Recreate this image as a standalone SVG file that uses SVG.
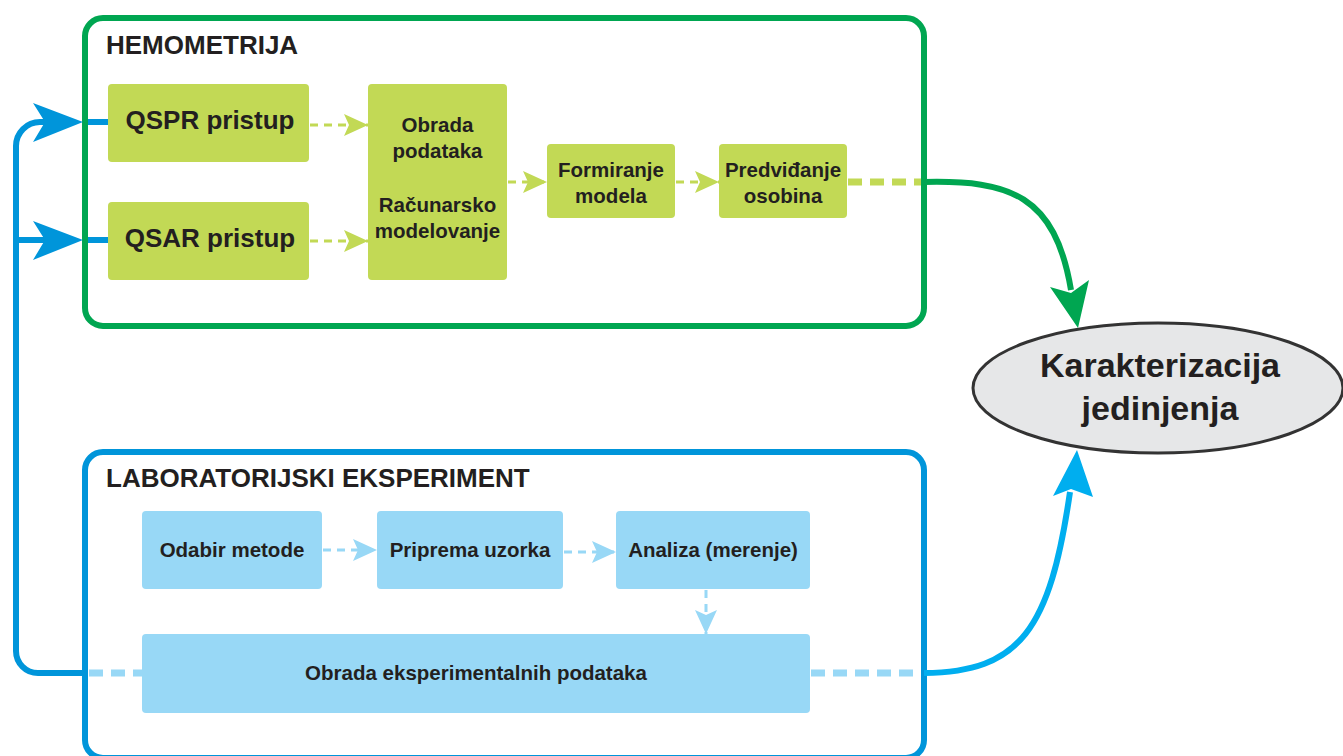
<svg xmlns="http://www.w3.org/2000/svg" width="1343" height="756" viewBox="0 0 1343 756">
<style>
  text { font-family: "Liberation Sans", Arial, sans-serif; font-weight: bold; fill: #231f20; }
  .hdr { font-size: 26px; }
  .big { font-size: 26px; text-anchor: middle; }
  .mid { font-size: 20.5px; text-anchor: middle; }
  .ell { font-size: 34px; text-anchor: middle; }
  .gbox { fill: #c2d955; }
  .bbox { fill: #98d8f6; }
  .dg { stroke: #c2d955; stroke-width: 3; stroke-dasharray: 8 6; fill: none; }
  .db { stroke: #98d8f6; stroke-width: 3; stroke-dasharray: 8 6; fill: none; }
  .tdg { stroke: #c2d955; stroke-width: 7; stroke-dasharray: 14 8; fill: none; }
  .tdb { stroke: #98d8f6; stroke-width: 7; stroke-dasharray: 14 8; fill: none; }
  .loop { stroke: #0095da; stroke-width: 6; fill: none; }
</style>
<defs>
  <marker id="ag" markerUnits="userSpaceOnUse" markerWidth="24" markerHeight="22" viewBox="0 0 24 22" refX="24" refY="11" orient="auto">
    <path d="M0,0 L24,11 L0,22 L5,11 Z" fill="#c2d955"/>
  </marker>
  <marker id="ab" markerUnits="userSpaceOnUse" markerWidth="24" markerHeight="22" viewBox="0 0 24 22" refX="24" refY="11" orient="auto">
    <path d="M0,0 L24,11 L0,22 L5,11 Z" fill="#98d8f6"/>
  </marker>
</defs>

<g id="hemometrija">
  <rect x="85" y="18" width="839" height="308" rx="18" fill="none" stroke="#00a651" stroke-width="6"/>
  <text class="hdr" x="106" y="54">HEMOMETRIJA</text>
</g>
<g id="laboratorijski">
  <rect x="85" y="452" width="839" height="306" rx="18" fill="none" stroke="#0095da" stroke-width="6"/>
  <text class="hdr" x="106" y="487">LABORATORIJSKI EKSPERIMENT</text>
</g>

<g id="connectors">
  <path class="loop" d="M 85 673 H 38 A 22 22 0 0 1 16 651 V 146 A 24 24 0 0 1 40 122 H 50"/>
  <path class="loop" d="M 16 240 H 50"/>
  <polygon points="83,122 33,103 45,122 33,142" fill="#0095da"/>
  <polygon points="83,240 33,221 45,240 33,260" fill="#0095da"/>
  <path class="loop" d="M 88 122 H 110"/>
  <path class="loop" d="M 88 240 H 110"/>

  <path class="dg" d="M 310 125 H 368" marker-end="url(#ag)"/>
  <path class="dg" d="M 310 241 H 368" marker-end="url(#ag)"/>
  <path class="dg" d="M 508 182 H 547" marker-end="url(#ag)"/>
  <path class="dg" d="M 676 182 H 719" marker-end="url(#ag)"/>
  <path class="tdg" d="M 848 182 H 921"/>
  <path d="M 924 182 C 1010 180, 1055 195, 1071 290" fill="none" stroke="#00a651" stroke-width="6"/>
  <polygon points="1078,328 1050,287 1071,293 1089,280" fill="#00a651"/>

  <path class="db" d="M 323 550 H 377" marker-end="url(#ab)"/>
  <path class="db" d="M 564 552 H 616" marker-end="url(#ab)"/>
  <path class="db" d="M 706 590 V 634" marker-end="url(#ab)"/>
  <path class="tdb" d="M 89 673 H 142"/>
  <path class="tdb" d="M 811 673 H 921"/>
  <path d="M 924 673 C 1020 672, 1050 630, 1070 492" fill="none" stroke="#00aeef" stroke-width="6"/>
  <polygon points="1077,450 1053,496 1071,489 1093,497" fill="#00aeef"/>
</g>

<g id="qspr">
  <rect class="gbox" x="108" y="84" width="201" height="78" rx="4"/>
  <text class="big" x="210" y="129">QSPR pristup</text>
</g>
<g id="qsar">
  <rect class="gbox" x="108" y="202" width="201" height="78" rx="4"/>
  <text class="big" x="210" y="247">QSAR pristup</text>
</g>
<g id="obrada">
  <rect class="gbox" x="368" y="84" width="139" height="196" rx="4"/>
  <text class="mid" x="437.5" y="132">Obrada</text>
  <text class="mid" x="437.5" y="158">podataka</text>
  <text class="mid" x="437.5" y="212">Računarsko</text>
  <text class="mid" x="437.5" y="238">modelovanje</text>
</g>
<g id="formiranje">
  <rect class="gbox" x="547" y="144" width="128" height="74" rx="4"/>
  <text class="mid" x="611" y="177">Formiranje</text>
  <text class="mid" x="611" y="203">modela</text>
</g>
<g id="predvidjanje">
  <rect class="gbox" x="719" y="144" width="128" height="74" rx="4"/>
  <text class="mid" x="783" y="177">Predviđanje</text>
  <text class="mid" x="783" y="203">osobina</text>
</g>

<g id="odabir">
  <rect class="bbox" x="142" y="511" width="180" height="78" rx="4"/>
  <text class="mid" x="232" y="557">Odabir metode</text>
</g>
<g id="priprema">
  <rect class="bbox" x="377" y="511" width="186" height="78" rx="4"/>
  <text class="mid" x="470" y="557">Priprema uzorka</text>
</g>
<g id="analiza">
  <rect class="bbox" x="616" y="511" width="194" height="78" rx="4"/>
  <text class="mid" x="713" y="557">Analiza (merenje)</text>
</g>
<g id="obrada-eksp">
  <rect class="bbox" x="142" y="634" width="668" height="79" rx="4"/>
  <text class="mid" x="476" y="680">Obrada eksperimentalnih podataka</text>
</g>

<g id="karakterizacija">
  <ellipse cx="1158" cy="388" rx="185" ry="65" fill="#e6e7e8" stroke="#333333" stroke-width="3"/>
  <text class="ell" x="1160" y="377">Karakterizacija</text>
  <text class="ell" x="1160" y="420">jedinjenja</text>
</g>
</svg>
